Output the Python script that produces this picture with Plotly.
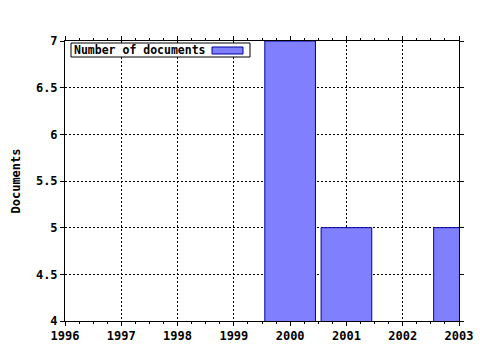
import plotly.graph_objects as go

years = [2000, 2001, 2003]
documents = [7, 5, 5]
series_name = "Number of documents"
y_title = "Documents"

FAM = "DejaVu Sans Mono"
bold = dict(family=FAM, size=12, color="black", weight="bold")
fill = "#8080ff"
edge = "#0000a0"

fig = go.Figure()
fig.add_trace(go.Bar(
    x=years, y=documents, name=series_name, width=0.9,
    marker=dict(color=fill, line=dict(color=edge, width=1)),
    showlegend=False,
))

W, H = 480, 350
L, R, T, B = 65, 21, 41, 29
pw, ph = W - L - R, H - T - B

def px(x):
    return (x - L) / pw

def py(y):
    return 1 - (y - T) / ph

# legend box (text + swatch)
fig.add_shape(type="rect", xref="paper", yref="paper",
              x0=px(71), x1=px(250), y0=py(57), y1=py(43),
              line=dict(color="black", width=1), fillcolor="white", layer="above")
fig.add_shape(type="rect", xref="paper", yref="paper",
              x0=px(212), x1=px(243), y0=py(54), y1=py(47),
              line=dict(color=edge, width=1), fillcolor=fill, layer="above")
fig.add_annotation(text=series_name, xref="paper", yref="paper",
                   x=px(72), y=py(50), xanchor="left", yanchor="middle",
                   showarrow=False, font=dict(family=FAM, size=11.5, color="black", weight="bold"))

axis_common = dict(
    showgrid=True, gridcolor="black", griddash="2px,2px", gridwidth=1,
    showline=True, linecolor="black", linewidth=1, mirror="allticks",
    ticks="outside", ticklen=4, tickcolor="black",
    tickfont=bold, zeroline=False, automargin=False,
)

fig.update_layout(
    template="none",
    width=W, height=H, autosize=False,
    margin=dict(l=L, r=R, t=T, b=B, pad=0),
    paper_bgcolor="white", plot_bgcolor="white",
    font=dict(family=FAM, size=12, color="black"),
    showlegend=False,
    xaxis=dict(range=[1996, 2003], dtick=1, tick0=1996,
               minor=dict(dtick=0.25, ticks="outside", ticklen=2, tickcolor="black", showgrid=False),
               **axis_common),
    yaxis=dict(range=[4, 7], dtick=0.5, tick0=4,
               title=dict(text=y_title, standoff=12, font=bold),
               **axis_common),
)

fig.write_html("out.html")
